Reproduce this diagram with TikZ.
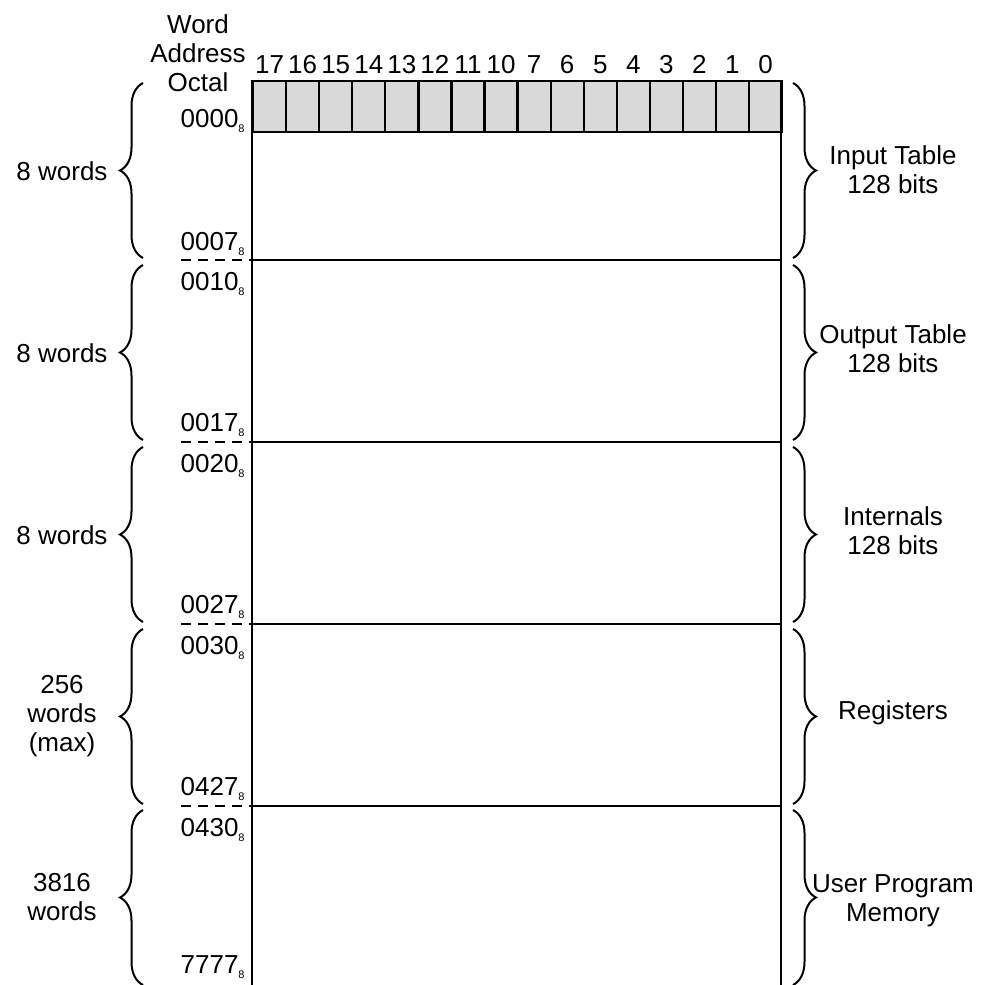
\documentclass[tikz,border=0pt]{standalone}
\usepackage{fontspec}
\setmainfont{Liberation Sans}
\usetikzlibrary{positioning,calc,decorations.pathreplacing}
\definecolor{CellGrey}{HTML}{D9D9D9}
\definecolor{Ink}{HTML}{000000}
\newcommand{\octaddr}[1]{#1\raisebox{-2.5pt}{\fontsize{5.5}{6}\selectfont 8}}
\tikzset{
	memtext/.style={font=\fontsize{13}{14.5}\selectfont, inner sep=0pt, align=center},
	addrtext/.style={memtext, anchor=base east},
	bitcell/.style={
		draw=Ink,
		fill=CellGrey,
		line width=1.1pt,
		minimum width=16.53pt,
		minimum height=25.5pt,
		inner sep=0pt,
		anchor=north west
	},
	memline/.style={draw=Ink, line width=1.2pt},
	gapline/.style={draw=Ink, line width=1.1pt, dash pattern=on 5pt off 3.5pt},
	wordbrace/.style={draw=Ink, line width=1pt, decorate, decoration={brace, amplitude=11.5pt}}
}

\begin{document}
\begin{tikzpicture}[x=0.5pt, y=-0.5pt]
	\useasboundingbox (0,0) rectangle (992,985);
	
	\node[memtext] (wordaddr) at (198,53) {Word\\Address\\Octal};
	
	\foreach \lab [count=\i from 0] in {17,16,15,14,13,12,11,10,7,6,5,4,3,2,1,0} {
		\node[bitcell] (cell-\i) at (252+33.06*\i,80) {};
		\node[memtext, above=3pt of cell-\i] (bitno-\i) {\lab};
	}
	
	\coordinate (memtop-l) at (252,80);
	\coordinate (memtop-r) at (781,80);
	\coordinate (membot-l) at (252,985);
	\coordinate (membot-r) at (781,985);
	\draw[memline] (memtop-l) -- (membot-l);
	\draw[memline] (memtop-r) -- (membot-r);
	
	\foreach \y [count=\k] in {260,442,624,806} {
		\coordinate (gap-\k) at (181,\y);
		\coordinate (secl-\k) at (252,\y);
		\coordinate (secr-\k) at (781,\y);
		\draw[gapline] (gap-\k) -- (secl-\k);
		\draw[memline] (secl-\k) -- (secr-\k);
	}
	
	\node[addrtext] (a0000) at (245,127) {\octaddr{0000}};
	\node[addrtext] (a0007) at (245,250) {\octaddr{0007}};
	\node[addrtext] (a0010) at (245,290) {\octaddr{0010}};
	\node[addrtext] (a0017) at (245,431) {\octaddr{0017}};
	\node[addrtext] (a0020) at (245,472) {\octaddr{0020}};
	\node[addrtext] (a0027) at (245,613) {\octaddr{0027}};
	\node[addrtext] (a0030) at (245,654) {\octaddr{0030}};
	\node[addrtext] (a0427) at (245,795) {\octaddr{0427}};
	\node[addrtext] (a0430) at (245,836) {\octaddr{0430}};
	\node[addrtext] (a7777) at (245,973) {\octaddr{7777}};
	
	\foreach \top/\bot [count=\k] in {83/258,265/440,447/622,629/804,810/985} {
		\coordinate (lb-top-\k) at (143,\top);
		\coordinate (lb-bot-\k) at (143,\bot);
		\coordinate (rb-top-\k) at (793,\top);
		\coordinate (rb-bot-\k) at (793,\bot);
		\draw[wordbrace] (lb-bot-\k) -- (lb-top-\k);
		\draw[wordbrace] (rb-top-\k) -- (rb-bot-\k);
	}
	
	\node[memtext] (words-1) at (62,171) {8 words};
	\node[memtext] (words-2) at (62,353) {8 words};
	\node[memtext] (words-3) at (62,535) {8 words};
	\node[memtext] (words-4) at (62,716) {256\\words\\(max)};
	\node[memtext] (words-5) at (62,897) {3816\\words};
	
	\node[memtext] (inputtab) at (893,170) {Input Table\\128 bits};
	\node[memtext] (outputtab) at (893,349) {Output Table\\128 bits};
	\node[memtext] (internals) at (893,531) {Internals\\128 bits};
	\node[memtext] (registers) at (893,713) {Registers};
	\node[memtext] (userprog) at (893,901) {User Program\\Memory};
\end{tikzpicture}
\end{document}
